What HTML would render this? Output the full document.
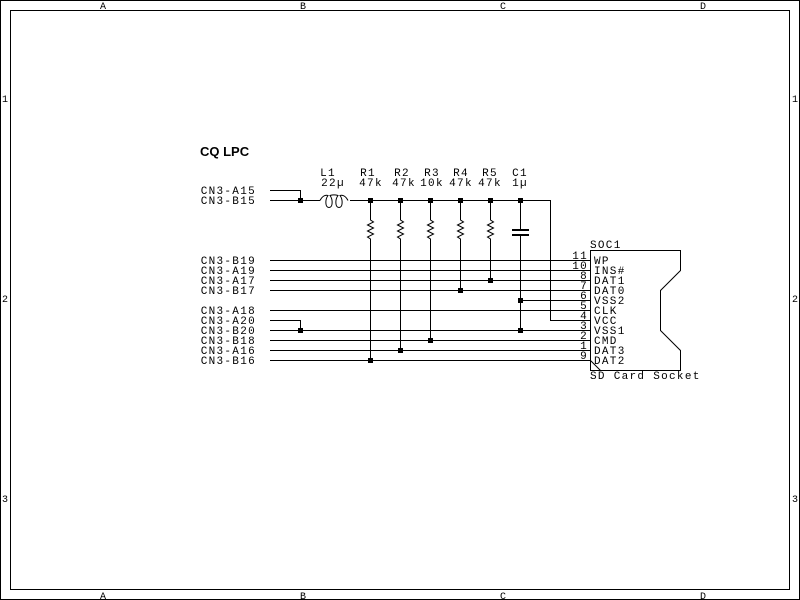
<!DOCTYPE html>
<html><head><meta charset="utf-8"><style>html,body{margin:0;padding:0;background:#fff}svg{display:block}</style></head><body>
<svg width="800" height="600" xmlns="http://www.w3.org/2000/svg" font-family="Liberation Mono, DejaVu Sans Mono, monospace" font-size="11" letter-spacing="1.3">
<rect x="0.5" y="0.5" width="799" height="599" fill="#fff" stroke="#000"/>
<rect x="10.5" y="10.5" width="779" height="579" fill="none" stroke="#000"/>
<g font-size="10" text-anchor="middle" letter-spacing="0">
<text x="103" y="9">A</text><text x="303" y="9">B</text><text x="503" y="9">C</text><text x="703" y="9">D</text>
<text x="103" y="599">A</text><text x="303" y="599">B</text><text x="503" y="599">C</text><text x="703" y="599">D</text>
<text x="5" y="102">1</text><text x="5" y="302">2</text><text x="5" y="502">3</text>
<text x="795" y="102">1</text><text x="795" y="302">2</text><text x="795" y="502">3</text>
</g>
<text x="200" y="156" font-family="Liberation Sans, sans-serif" font-weight="bold" font-size="13" letter-spacing="0">CQ LPC</text>
<g text-anchor="end">
<text x="256" y="194">CN3-A15</text><text x="256" y="204">CN3-B15</text>
<text x="256" y="264">CN3-B19</text><text x="256" y="274">CN3-A19</text><text x="256" y="284">CN3-A17</text><text x="256" y="294">CN3-B17</text>
<text x="256" y="314">CN3-A18</text><text x="256" y="324">CN3-A20</text><text x="256" y="334">CN3-B20</text><text x="256" y="344">CN3-B18</text><text x="256" y="354">CN3-A16</text><text x="256" y="364">CN3-B16</text>
</g>
<g text-anchor="middle">
<text x="328" y="176">L1</text><text x="333" y="186">22µ</text>
<text x="368" y="176">R1</text><text x="371" y="186">47k</text>
<text x="402" y="176">R2</text><text x="404" y="186">47k</text>
<text x="432" y="176">R3</text><text x="432" y="186">10k</text>
<text x="461" y="176">R4</text><text x="461" y="186">47k</text>
<text x="490" y="176">R5</text><text x="490" y="186">47k</text>
<text x="520" y="176">C1</text><text x="520" y="186">1µ</text>
</g>
<g stroke="#000" fill="none" stroke-width="1">
<path d="M270 190.5H300.5V200.5M270 200.5H320M350 200.5H550.5V320.5H590"/>
<path d="M320 200.5c2-4 5-6 8-5c-3 4-3 12 1 12c4 0 4-8 1-12c3-1 5-1 8 0c-3 4-3 12 1 12c4 0 4-8 1-12c3-1 6 1 8 5"/>
<path d="M370.5 200V220l3 2-6 3 6 3-6 3 6 3-6 3 3 2V360"/>
<path d="M400.5 200V220l3 2-6 3 6 3-6 3 6 3-6 3 3 2V350"/>
<path d="M430.5 200V220l3 2-6 3 6 3-6 3 6 3-6 3 3 2V340"/>
<path d="M460.5 200V220l3 2-6 3 6 3-6 3 6 3-6 3 3 2V290"/>
<path d="M490.5 200V220l3 2-6 3 6 3-6 3 6 3-6 3 3 2V280"/>
<path d="M520.5 200V229M520.5 236V330.5M520 300.5H590"/>
<path d="M270 260.5H590M270 270.5H590M270 280.5H590M270 290.5H590M270 310.5H590M270 320.5H300.5V330.5M270 330.5H590M270 340.5H590M270 350.5H590M270 360.5H590"/>
<path d="M590.5 250.5H680.5V270.5L660.5 290.5V330.5L680.5 350.5V370.5H590.5ZM590.5 360.5L600.5 370.5"/>
</g>
<g stroke="#000" stroke-width="2"><path d="M512 230H529M512 235H529"/></g>
<g fill="#000">
<rect x="298" y="198" width="5" height="5"/><rect x="368" y="198" width="5" height="5"/><rect x="398" y="198" width="5" height="5"/><rect x="428" y="198" width="5" height="5"/><rect x="458" y="198" width="5" height="5"/><rect x="488" y="198" width="5" height="5"/><rect x="518" y="198" width="5" height="5"/>
<rect x="488" y="278" width="5" height="5"/><rect x="458" y="288" width="5" height="5"/><rect x="518" y="298" width="5" height="5"/><rect x="518" y="328" width="5" height="5"/><rect x="298" y="328" width="5" height="5"/><rect x="428" y="338" width="5" height="5"/><rect x="398" y="348" width="5" height="5"/><rect x="368" y="358" width="5" height="5"/>
</g>
<g text-anchor="end">
<text x="588" y="259">11</text><text x="588" y="269">10</text><text x="588" y="279">8</text><text x="588" y="289">7</text><text x="588" y="299">6</text><text x="588" y="309">5</text><text x="588" y="319">4</text><text x="588" y="329">3</text><text x="588" y="339">2</text><text x="588" y="349">1</text><text x="588" y="359">9</text>
</g>
<g>
<text x="590" y="248">SOC1</text>
<text x="594" y="264">WP</text><text x="594" y="274">INS#</text><text x="594" y="284">DAT1</text><text x="594" y="294">DAT0</text><text x="594" y="304">VSS2</text><text x="594" y="314">CLK</text><text x="594" y="324">VCC</text><text x="594" y="334">VSS1</text><text x="594" y="344">CMD</text><text x="594" y="354">DAT3</text><text x="594" y="364">DAT2</text>
<text x="590" y="379">SD Card Socket</text>
</g>
</svg>
</body></html>
